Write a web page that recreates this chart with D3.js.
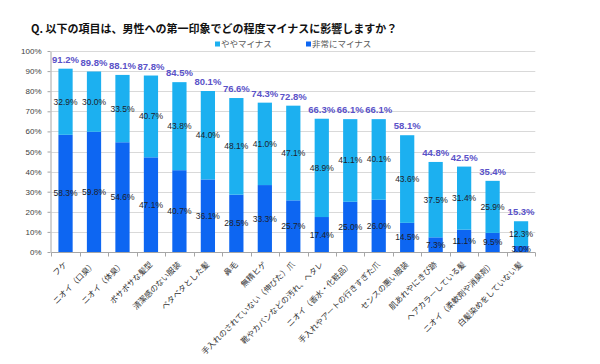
<!DOCTYPE html>
<html>
<head>
<meta charset="utf-8">
<script src="https://cdn.jsdelivr.net/npm/d3@7"></script>
<style>
  body { margin: 0; background: #fff; }
  svg text { font-family: "Liberation Sans", "Noto Sans CJK JP", sans-serif; }
  .jp { font-family: "Noto Sans CJK JP", sans-serif; }
</style>
</head>
<body>
<script>
// data
var categories = ["フケ", "ニオイ（口臭）", "ニオイ（体臭）", "ボサボサな髪型", "清潔感のない服装",
  "ベタベタとした髪", "鼻毛", "無精ヒゲ", "手入れのされていない（伸びた）爪", "靴やカバンなどの汚れ、ヘタレ",
  "ニオイ（香水・化粧品）", "手入れやアートの行きすぎた爪", "センスの悪い服装", "肌あれやにきび跡",
  "ヘアカラーしている髪", "ニオイ（柔軟剤や消臭剤）", "白髪染めをしていない髪"];
var strongNeg = [58.3, 59.8, 54.6, 47.1, 40.7, 36.1, 28.5, 33.3, 25.7, 17.4, 25.0, 26.0, 14.5, 7.3, 11.1, 9.5, 3.0];
var slightNeg = [32.9, 30.0, 33.5, 40.7, 43.8, 44.0, 48.1, 41.0, 47.1, 48.9, 41.1, 40.1, 43.6, 37.5, 31.4, 25.9, 12.3];
var totals = [91.2, 89.8, 88.1, 87.8, 84.5, 80.1, 76.6, 74.3, 72.8, 66.3, 66.1, 66.1, 58.1, 44.8, 42.5, 35.4, 15.3];
var yTicks = [0, 10, 20, 30, 40, 50, 60, 70, 80, 90, 100];
var seriesNames = ["ややマイナス", "非常にマイナス"];
var title = "Q. 以下の項目は、男性への第一印象でどの程度マイナスに影響しますか？";

var W = 600, H = 364;
var plot = {left: 51.3, right: 535.3, top: 51, bottom: 252};

var colStrong = "#0d66f2", colSlight = "#1cb0f0";

var svg = d3.select("body").append("svg")
    .attr("width", W)
    .attr("height", H);

var x = d3.scaleBand()
    .domain(categories)
    .range([plot.left, plot.right])
    .paddingInner(0.5)
    .paddingOuter(0.25);

var y = d3.scaleLinear()
    .domain([0, 100])
    .range([plot.bottom, plot.top]);

// title
svg.append("text")
    .attr("class", "jp")
    .attr("x", 31)
    .attr("y", 33)
    .attr("font-size", 11)
    .attr("font-weight", "bold")
    .attr("fill", "#111")
    .text(title);

// gridlines
svg.append("g")
    .selectAll("line")
    .data(yTicks.filter(function(d) { return d > 0; }))
    .enter().append("line")
    .attr("x1", plot.left)
    .attr("x2", plot.right)
    .attr("y1", function(d) { return Math.round(y(d)) + 0.5; })
    .attr("y2", function(d) { return Math.round(y(d)) + 0.5; })
    .attr("stroke", "#d9d9d9")
    .attr("stroke-width", 1);

// y axis
var yAxis = svg.append("g")
    .attr("transform", "translate(" + (Math.round(plot.left) - 0.5) + ",0)")
    .call(d3.axisLeft(y).tickValues(yTicks).tickSize(3).tickSizeOuter(0)
        .tickFormat(function(d) { return d + "%"; }));
yAxis.select(".domain").attr("stroke", "#a6a6a6");
yAxis.selectAll(".tick line").attr("stroke", "#a6a6a6");
yAxis.selectAll(".tick text")
    .attr("x", -9)
    .attr("font-size", 8)
    .attr("fill", "#404040");

// stacked bars
var table = categories.map(function(c, i) {
  return {cat: c, strong: strongNeg[i], slight: slightNeg[i]};
});
var stack = d3.stack().keys(["strong", "slight"]);
var layers = stack(table);
var layerColor = {strong: colStrong, slight: colSlight};

var gLayers = svg.append("g")
    .selectAll("g")
    .data(layers)
    .enter().append("g")
    .attr("fill", function(d) { return layerColor[d.key]; });

gLayers.selectAll("rect")
    .data(function(d) { return d; })
    .enter().append("rect")
    .attr("x", function(d) { return x(d.data.cat); })
    .attr("width", x.bandwidth())
    .attr("y", function(d) { return y(d[1]); })
    .attr("height", function(d) { return y(d[0]) - y(d[1]); });

// segment labels
gLayers.selectAll("text")
    .data(function(d) { return d; })
    .enter().append("text")
    .attr("x", function(d) { return x(d.data.cat) + x.bandwidth() / 2; })
    .attr("y", function(d) { return (y(d[0]) + y(d[1])) / 2 + 3; })
    .attr("text-anchor", "middle")
    .attr("font-size", 8.5)
    .attr("fill", "#1e1e2a")
    .text(function(d) { return (d[1] - d[0]).toFixed(1) + "%"; });

// total labels
svg.append("g")
    .selectAll("text")
    .data(categories)
    .enter().append("text")
    .attr("x", function(d) { return x(d) + x.bandwidth() / 2; })
    .attr("y", function(d, i) { return y(totals[i]) - 6; })
    .attr("text-anchor", "middle")
    .attr("font-size", 9.5)
    .attr("font-weight", "bold")
    .attr("fill", "#5a52c8")
    .text(function(d, i) { return totals[i].toFixed(1) + "%"; });

// x axis
var xAxis = svg.append("g")
    .attr("transform", "translate(0," + (plot.bottom + 0.5) + ")");
xAxis.append("line")
    .attr("x1", plot.left).attr("x2", plot.right)
    .attr("stroke", "#a6a6a6");
xAxis.selectAll(".sep")
    .data(d3.range(categories.length + 1))
    .enter().append("line")
    .attr("class", "sep")
    .attr("x1", function(i) { return Math.round(plot.left + i * x.step()) + 0.5; })
    .attr("x2", function(i) { return Math.round(plot.left + i * x.step()) + 0.5; })
    .attr("y1", 0).attr("y2", 4)
    .attr("stroke", "#a6a6a6");

svg.append("g")
    .selectAll("text")
    .data(categories)
    .enter().append("text")
    .attr("class", "jp")
    .attr("transform", function(d) {
      return "translate(" + (x(d) + x.bandwidth() / 2 + 2) + "," + (plot.bottom + 13) + ") rotate(-45)";
    })
    .attr("text-anchor", "end")
    .attr("font-size", 8)
    .attr("fill", "#333")
    .text(function(d) { return d; });

// legend
var legend = svg.append("g")
    .selectAll("g")
    .data(seriesNames)
    .enter().append("g")
    .attr("transform", function(d, i) { return "translate(" + (215 + i * 91) + ",44)"; });
legend.append("rect")
    .attr("x", 0).attr("y", -2.5)
    .attr("width", 5).attr("height", 5)
    .attr("fill", function(d, i) { return i == 0 ? colSlight : colStrong; });
legend.append("text")
    .attr("class", "jp")
    .attr("x", 6)
    .attr("y", 3)
    .attr("font-size", 8.5)
    .attr("fill", "#595959")
    .text(function(d) { return d; });
</script>
</body>
</html>
